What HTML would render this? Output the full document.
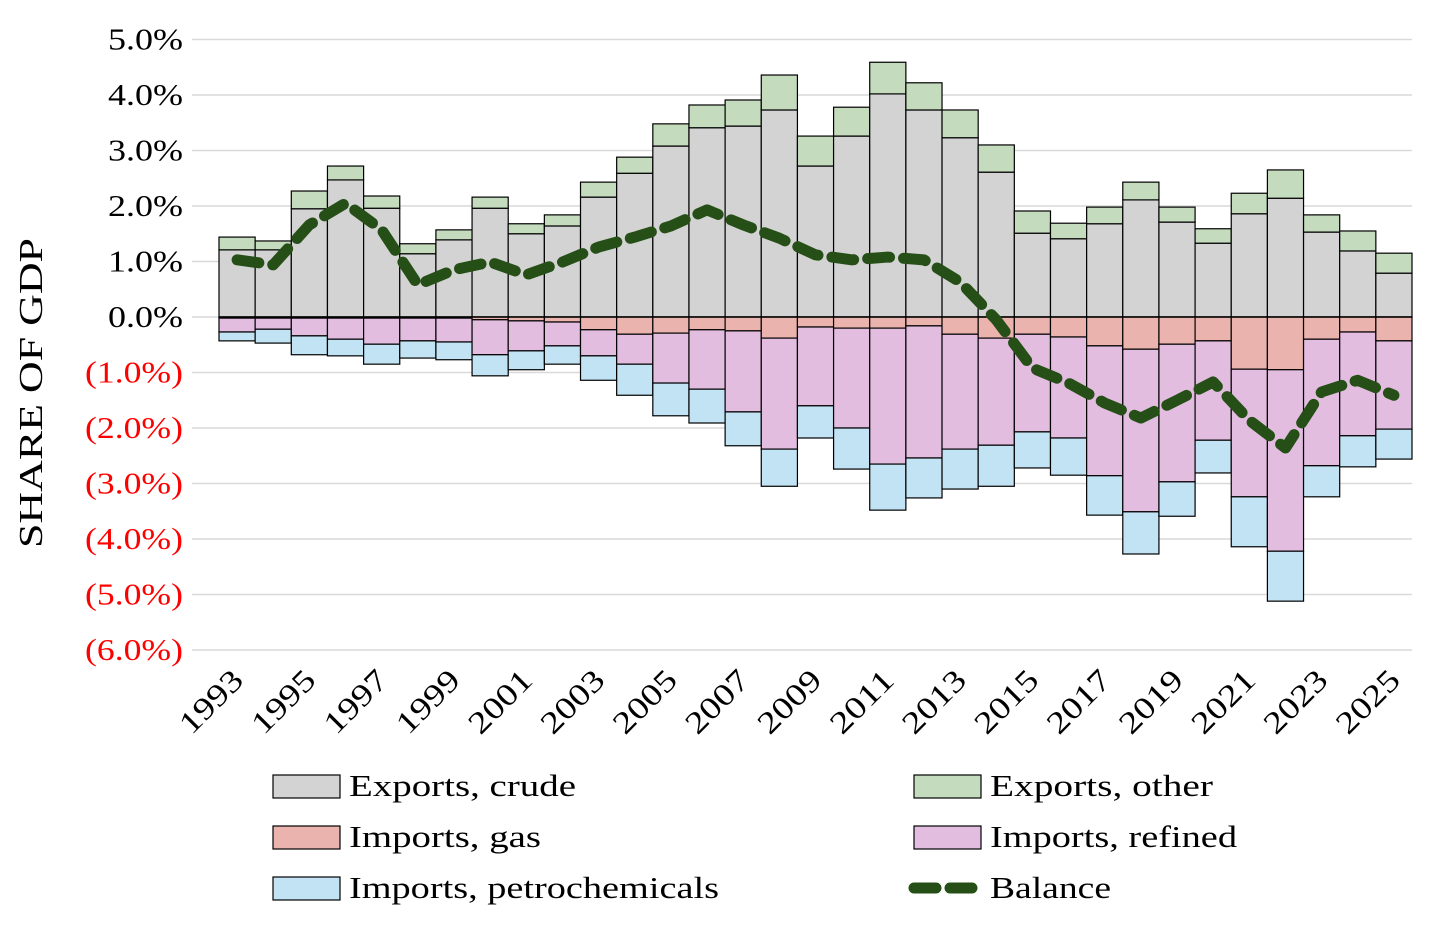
<!DOCTYPE html>
<html><head><meta charset="utf-8"><style>
html,body{margin:0;padding:0;background:#fff;}
svg text{font-family:"Liberation Serif",serif;}
</style></head><body>
<svg id="chart" width="1456" height="939" xmlns="http://www.w3.org/2000/svg">
<g id="grid"></g><g id="bars"></g><g id="line"></g><g id="axes"></g>
<text transform="translate(42,393) rotate(-90)" text-anchor="middle" font-size="34" textLength="310" lengthAdjust="spacingAndGlyphs" fill="#000">SHARE OF GDP</text>
<g font-size="31">
<rect x="273" y="775" width="67" height="23" fill="#d3d3d3" stroke="#000" stroke-width="1.2"/>
<text x="349" y="796" textLength="227" lengthAdjust="spacingAndGlyphs">Exports, crude</text>
<rect x="914" y="775" width="67" height="23" fill="#c5dbbe" stroke="#000" stroke-width="1.2"/>
<text x="990" y="796" textLength="223" lengthAdjust="spacingAndGlyphs">Exports, other</text>
<rect x="273" y="826" width="67" height="23" fill="#ebb3ad" stroke="#000" stroke-width="1.2"/>
<text x="349" y="847" textLength="192" lengthAdjust="spacingAndGlyphs">Imports, gas</text>
<rect x="914" y="826" width="67" height="23" fill="#e2bde0" stroke="#000" stroke-width="1.2"/>
<text x="990" y="847" textLength="247" lengthAdjust="spacingAndGlyphs">Imports, refined</text>
<rect x="273" y="877" width="67" height="23" fill="#c2e3f4" stroke="#000" stroke-width="1.2"/>
<text x="349" y="898" textLength="370" lengthAdjust="spacingAndGlyphs">Imports, petrochemicals</text>
<line x1="914" y1="888" x2="980" y2="888" stroke="#254f16" stroke-width="11" stroke-dasharray="22,14" stroke-linecap="round"/>
<text x="990" y="898" textLength="121" lengthAdjust="spacingAndGlyphs">Balance</text>
</g>
</svg>
<script>
const years=[1993,1994,1995,1996,1997,1998,1999,2000,2001,2002,2003,2004,2005,2006,2007,2008,2009,2010,2011,2012,2013,2014,2015,2016,2017,2018,2019,2020,2021,2022,2023,2024,2025];
const exportsCrude=[1.21,1.21,1.95,2.47,1.96,1.14,1.39,1.96,1.50,1.64,2.16,2.59,3.08,3.41,3.44,3.73,2.72,3.26,4.02,3.73,3.23,2.61,1.51,1.41,1.68,2.11,1.71,1.33,1.86,2.14,1.53,1.19,0.79];
const exportsOther=[0.23,0.16,0.32,0.25,0.22,0.18,0.18,0.20,0.18,0.20,0.27,0.29,0.40,0.41,0.47,0.63,0.54,0.52,0.57,0.49,0.50,0.49,0.40,0.28,0.30,0.32,0.27,0.26,0.37,0.51,0.31,0.36,0.36];
const importsGas=[0.02,0.02,0.02,0.02,0.02,0.02,0.02,0.05,0.07,0.09,0.23,0.31,0.29,0.23,0.25,0.38,0.18,0.20,0.20,0.16,0.31,0.38,0.31,0.36,0.52,0.58,0.49,0.43,0.94,0.95,0.40,0.27,0.43];
const importsRefined=[0.25,0.20,0.32,0.38,0.47,0.41,0.43,0.63,0.54,0.43,0.47,0.54,0.90,1.07,1.46,2.00,1.42,1.80,2.45,2.38,2.07,1.93,1.76,1.82,2.34,2.93,2.48,1.79,2.30,3.27,2.28,1.87,1.59];
const importsPetro=[0.16,0.25,0.34,0.30,0.36,0.31,0.32,0.38,0.34,0.33,0.44,0.56,0.59,0.61,0.61,0.67,0.58,0.74,0.83,0.72,0.72,0.74,0.65,0.67,0.71,0.76,0.62,0.59,0.90,0.90,0.56,0.56,0.54];
const balance=[1.03,0.94,1.66,2.05,1.57,0.58,0.85,0.99,0.76,0.99,1.26,1.44,1.64,1.93,1.66,1.42,1.12,1.03,1.08,1.03,0.63,-0.05,-0.92,-1.19,-1.55,-1.82,-1.50,-1.17,-1.86,-2.36,-1.35,-1.14,-1.41];
const yTicks=[5,4,3,2,1,0,-1,-2,-3,-4,-5,-6];
const yLabels=["5.0%","4.0%","3.0%","2.0%","1.0%","0.0%","(1.0%)","(2.0%)","(3.0%)","(4.0%)","(5.0%)","(6.0%)"];

const NS="http://www.w3.org/2000/svg";
const x0=219,x1=1412,yZero=317,pxPer=55.5;
const bw=(x1-x0)/years.length;
const xs=i=>x0+i*bw, xc=i=>x0+(i+0.5)*bw, ys=v=>yZero-v*pxPer;
function mk(tag,attrs,parent){const e=document.createElementNS(NS,tag);for(const k in attrs)e.setAttribute(k,attrs[k]);parent.appendChild(e);return e;}
const grid=document.getElementById('grid'),bars=document.getElementById('bars'),line=document.getElementById('line'),axes=document.getElementById('axes');
yTicks.forEach((t,i)=>{
 const g=mk('line',{x1:192,x2:1412,y1:ys(t),y2:ys(t),stroke:'#d9d9d9','stroke-width':1.5},grid);
 
 
 const lab=yLabels[i];
 const tx=mk('text',{x:183,y:ys(t)+10,'text-anchor':'end','font-size':31,fill:t<0?'#ff0000':'#000',textLength:lab.length>4?98:75,lengthAdjust:'spacingAndGlyphs'},axes);
 tx.textContent=lab;
 
 
});
function seg(i,a,b,fill,name){
 const top=ys(Math.max(a,b)),bot=ys(Math.min(a,b));
 const r=mk('rect',{x:xs(i),y:top,width:bw,height:Math.max(bot-top,0.5),fill:fill,stroke:'#000','stroke-width':1.2},bars);
 
 
}
years.forEach((y,i)=>{
 seg(i,0,exportsCrude[i],'#d3d3d3','bar-exports-crude-'+y);
 seg(i,exportsCrude[i],exportsCrude[i]+exportsOther[i],'#c5dbbe','bar-exports-other-'+y);
 const g=-importsGas[i],r=g-importsRefined[i],p=r-importsPetro[i];
 seg(i,0,g,'#ebb3ad','bar-imports-gas-'+y);
 seg(i,g,r,'#e2bde0','bar-imports-refined-'+y);
 seg(i,r,p,'#c2e3f4','bar-imports-petrochemicals-'+y);
 if(i%2===0){
  const t=mk('text',{transform:`translate(${xc(i)+8},${682}) rotate(-45)`,'text-anchor':'end','font-size':31,fill:'#000',textLength:76,lengthAdjust:'spacingAndGlyphs'},axes);
  t.textContent=y;
  
  
 }
});
const zl=mk('line',{x1:x0,x2:x1,y1:yZero,y2:yZero,stroke:'#000','stroke-width':1.5},bars);


const pts=balance.map((v,i)=>xc(i)+','+ys(v)).join(' ');
const pl=mk('polyline',{points:pts,fill:'none',stroke:'#254f16','stroke-width':11,'stroke-dasharray':'22,14','stroke-linecap':'round','stroke-linejoin':'round'},line);


</script>
</body></html>
